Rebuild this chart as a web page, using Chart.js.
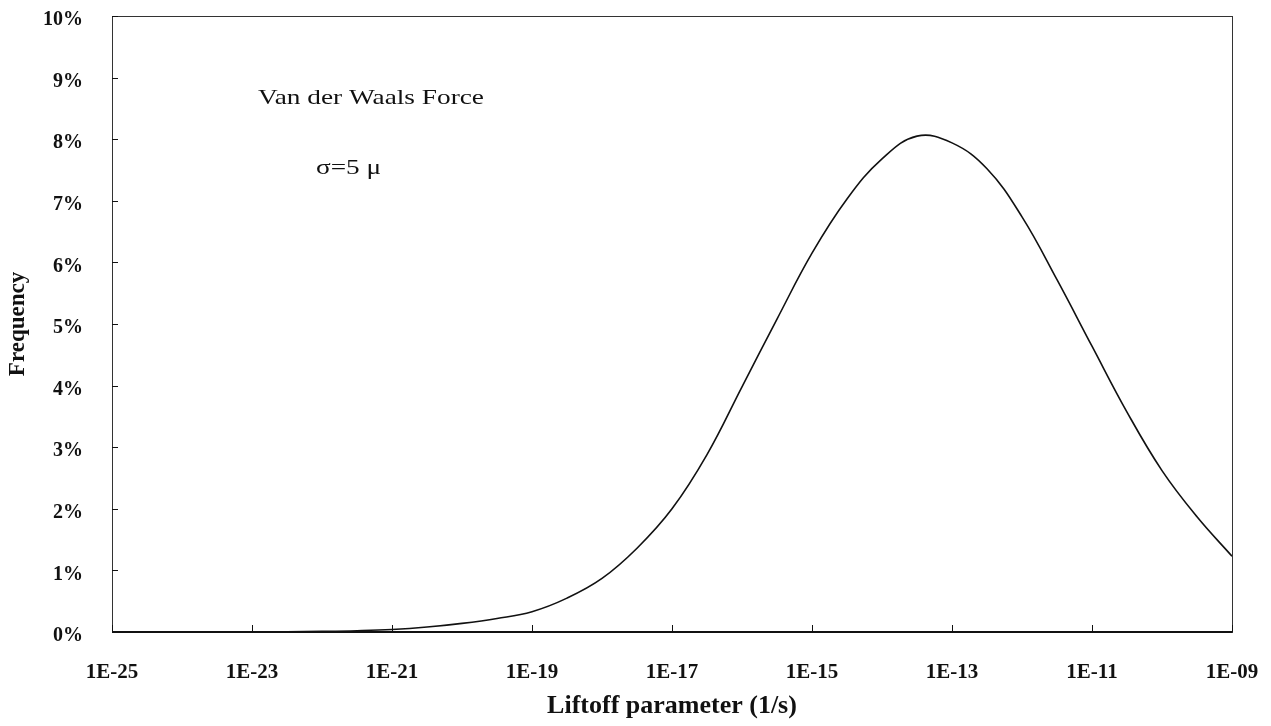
<!DOCTYPE html>
<html>
<head>
<meta charset="utf-8">
<script src="https://cdn.jsdelivr.net/npm/chart.js@4.4.1/dist/chart.umd.min.js"></script>
<style>
  body { margin: 0; background: #fff; }
  #wrap { width: 1271px; height: 726px; }
</style>
</head>
<body>
<div id="wrap"><canvas id="chart"></canvas></div>
<script>
// exponents of the liftoff parameter (1/s), every half decade
var exponents = [-25, -24.5, -24, -23.5, -23, -22.5, -22, -21.5, -21, -20.5, -20, -19.5, -19,
    -18.5, -18, -17.5, -17, -16.5, -16, -15.5, -15, -14.5, -14, -13.5, -13, -12.5, -12,
    -11.5, -11, -10.5, -10, -9.5, -9];
// frequency in %
var frequency = [0, 0, 0, 0, 0, 0.005, 0.01, 0.02, 0.04, 0.08, 0.14, 0.22, 0.33,
    0.55, 0.87, 1.36, 2.0, 2.88, 3.98, 5.08, 6.15, 7.03, 7.68, 8.05, 7.94, 7.52, 6.74,
    5.72, 4.64, 3.57, 2.62, 1.87, 1.23];
var tickExponents = [-25, -23, -21, -19, -17, -15, -13, -11, -9];
var tickLabels = ["1E-25", "1E-23", "1E-21", "1E-19", "1E-17", "1E-15", "1E-13", "1E-11", "1E-09"];

document.addEventListener("DOMContentLoaded", function () {
    var points = exponents.map(function (e, i) {
        return { x: Math.pow(10, e), y: frequency[i] };
    });

    // box round the plot, inward ticks and the two notes
    var framePlugin = {
        id: "frame",
        afterDraw: function (chart) {
            var ctx = chart.ctx;
            var a = chart.chartArea;
            var xs = chart.scales.x;
            var ys = chart.scales.y;
            ctx.save();
            ctx.strokeStyle = "#333";
            ctx.lineWidth = 1;
            ctx.strokeRect(a.left + 0.5, a.top + 0.5, a.right - a.left, a.bottom - a.top);
            ctx.strokeStyle = "#111";
            ctx.lineWidth = 2;
            ctx.beginPath();
            ctx.moveTo(a.left, a.bottom);
            ctx.lineTo(a.right, a.bottom);
            ctx.stroke();

            ctx.lineWidth = 1;
            ctx.beginPath();
            ys.ticks.forEach(function (t, i) {
                var py = Math.round(ys.getPixelForTick(i)) + 0.5;
                ctx.moveTo(a.left, py);
                ctx.lineTo(a.left + 6, py);
            });
            xs.ticks.forEach(function (t, i) {
                var px = Math.round(xs.getPixelForTick(i)) + 0.5;
                ctx.moveTo(px, a.bottom);
                ctx.lineTo(px, a.bottom - 7);
            });
            ctx.stroke();

            ctx.fillStyle = "#111";
            ctx.textBaseline = "middle";
            ctx.font = "21px 'Liberation Serif'";
            ctx.save();
            ctx.translate(a.left + 146, a.top + 82);
            ctx.scale(1.3, 1);
            ctx.fillText("Van der Waals Force", 0, 0);
            ctx.restore();
            ctx.save();
            ctx.translate(a.left + 204, a.top + 152);
            ctx.scale(1.3, 1);
            ctx.fillText("\u03c3=5 \u03bc", 0, 0);
            ctx.restore();
            ctx.restore();
        }
    };

    var ctx = document.getElementById("chart").getContext("2d");
    var chart = new Chart(ctx, {
        type: "line",
        data: {
            datasets: [{
                data: points,
                borderColor: "#111",
                borderWidth: 1.6,
                pointRadius: 0,
                fill: false,
                tension: 0.4
            }]
        },
        options: {
            responsive: true,
            maintainAspectRatio: false,
            animation: false,
            layout: { padding: { left: 0, right: 39, top: 16, bottom: 0 } },
            plugins: {
                legend: { display: false },
                tooltip: { enabled: false }
            },
            scales: {
                x: {
                    type: "logarithmic",
                    min: 1e-25,
                    max: 1e-9,
                    afterBuildTicks: function (scale) {
                        scale.ticks = tickExponents.map(function (e) {
                            return { value: Math.pow(10, e) };
                        });
                    },
                    afterFit: function (scale) {
                        scale.height = 94;
                        scale.paddingLeft = 0;
                        scale.paddingRight = 0;
                    },
                    grid: { display: false, drawTicks: false },
                    border: { display: false },
                    ticks: {
                        autoSkip: false,
                        maxRotation: 0,
                        padding: 28,
                        color: "#111",
                        font: { family: "'Liberation Serif'", size: 21, weight: "bold" },
                        callback: function (value, index) { return tickLabels[index]; }
                    },
                    title: {
                        display: true,
                        text: "Liftoff parameter (1/s)",
                        color: "#111",
                        font: { family: "'Liberation Serif'", size: 26, weight: "bold" }
                    }
                },
                y: {
                    min: 0,
                    max: 10,
                    afterFit: function (scale) {
                        scale.width = 112;
                        scale.paddingTop = 0;
                        scale.paddingBottom = 0;
                    },
                    grid: { display: false, drawTicks: false },
                    border: { display: false },
                    ticks: {
                        stepSize: 1,
                        padding: 29,
                        labelOffset: 4,
                        color: "#111",
                        font: { family: "'Liberation Serif'", size: 20, weight: "bold" },
                        callback: function (value) { return value + "%"; }
                    },
                    title: {
                        display: true,
                        text: "Frequency",
                        color: "#111",
                        font: { family: "'Liberation Serif'", size: 23, weight: "bold" }
                    }
                }
            }
        },
        plugins: [framePlugin]
    });
});
</script>
</body>
</html>
